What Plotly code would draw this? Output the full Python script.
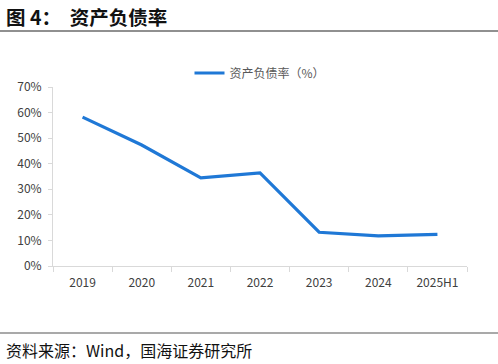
import plotly.graph_objects as go

categories = ["2019", "2020", "2021", "2022", "2023", "2024", "2025H1"]
debt_ratio = [58.2, 47.3, 34.5, 36.4, 13.2, 11.8, 12.4]
series_name = "资产负债率（%）"
y_ticks = [0, 10, 20, 30, 40, 50, 60, 70]
y_tick_text = [f"{v}%" for v in y_ticks]

W, H = 498, 364
ML, MR, MT, MB = 53, 31, 87, 98
PW = W - ML - MR
PH = H - MT - MB

def px(x):
    return (x - ML) / PW

def py(y):
    return (H - MB - y) / PH

font_family = "Noto Sans CJK SC, Noto Sans, sans-serif"

fig = go.Figure()
fig.add_trace(go.Scatter(
    x=categories, y=debt_ratio, mode="lines", name=series_name,
    line=dict(color="#1f78d6", width=3.2),
))

fig.update_layout(
    width=W, height=H,
    margin=dict(l=ML, r=MR, t=MT, b=MB),
    paper_bgcolor="white", plot_bgcolor="white",
    font=dict(family=font_family, size=12, color="#404040"),
    showlegend=True,
    legend=dict(orientation="h", x=0.5, xanchor="center", y=py(73), yanchor="middle",
                font=dict(size=12, color="#595959"), itemwidth=30,
                bgcolor="rgba(0,0,0,0)"),
    xaxis=dict(
        type="category", range=[-0.5, len(categories) - 0.5],
        showline=True, linecolor="#d9d9d9", linewidth=1,
        ticks="outside", tickson="boundaries", ticklen=5, tickcolor="#d9d9d9",
        ticklabelstandoff=6,
        showgrid=False, tickfont=dict(size=12, color="#404040"),
    ),
    yaxis=dict(
        range=[0, 70], tickmode="array", tickvals=y_ticks, ticktext=y_tick_text,
        showline=True, linecolor="#d9d9d9", linewidth=1,
        ticks="outside", ticklen=4, tickcolor="#d9d9d9",
        ticklabelstandoff=4,
        showgrid=False, zeroline=False, tickfont=dict(size=12, color="#404040"),
    ),
)

fig.add_annotation(
    text="<b>图 4：  资产负债率</b>", xref="paper", yref="paper",
    x=px(4), y=py(16), xanchor="left", yanchor="middle", showarrow=False,
    font=dict(size=19.5, color="#111111", family=font_family),
)
fig.add_shape(type="line", xref="paper", yref="paper",
              x0=px(0), x1=px(498), y0=py(31), y1=py(31),
              line=dict(color="#222222", width=1.2))
fig.add_shape(type="line", xref="paper", yref="paper",
              x0=px(0), x1=px(498), y0=py(333), y1=py(333),
              line=dict(color="#555555", width=1.2))
fig.add_annotation(
    text="资料来源：Wind，国海证券研究所", xref="paper", yref="paper",
    x=px(4), y=py(350), xanchor="left", yanchor="middle", showarrow=False,
    font=dict(size=16, color="#111111", family=font_family),
)

fig.write_html("out.html")
